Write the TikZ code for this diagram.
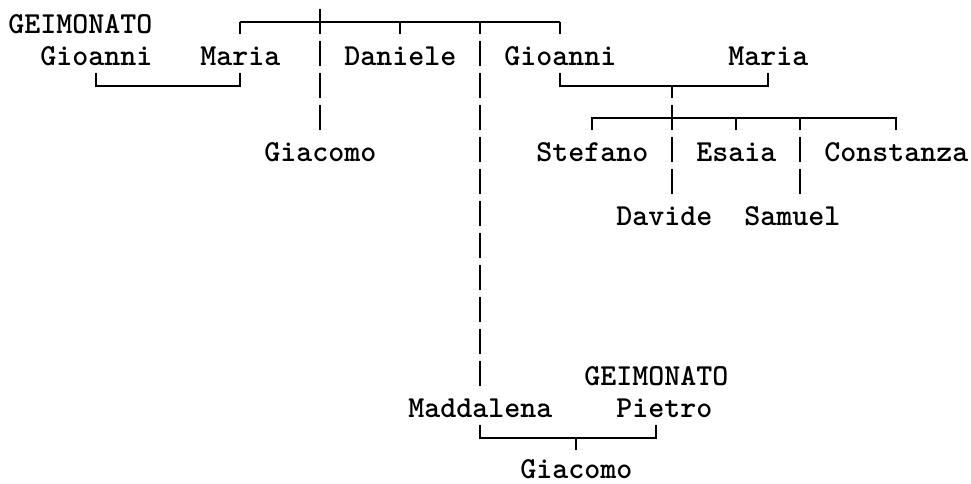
\documentclass[tikz,border=0pt]{standalone}
\usepackage{fontspec}
\usepackage{tikz}
\definecolor{TreeInk}{RGB}{0,0,0}
% grid of the tree: 16px columns, 32px rows
\newcommand\colx[1]{\the\numexpr16*#1+16\relax}
\newcommand\colw[1]{\the\numexpr16*#1+8\relax}
\newcommand\rowy[1]{\the\numexpr22+32*#1\relax}
\newcommand\rowb[1]{\the\numexpr33+32*#1\relax}

\begin{document}
\begin{tikzpicture}[x=0.75pt, y=-0.75pt,
    person/.style={font=\ttfamily\bfseries\fontsize{22.86pt}{26pt}\selectfont,
                   anchor=base west, inner sep=0pt, text=TreeInk},
    link/.style={line width=1pt, TreeInk},
    rule/.style={link, dash pattern=on 19.125pt off 4.875pt}
  ]
  \useasboundingbox (0,0) rectangle (971,483);

  % people
  \node[person] (gei1)      at (\colw{0},\rowb{0})  {GEIMONATO};
  \node[person] (gioanni1)  at (\colw{2},\rowb{1})  {Gioanni};
  \node[person] (maria1)    at (\colw{12},\rowb{1}) {Maria};
  \node[person] (daniele)   at (\colw{21},\rowb{1}) {Daniele};
  \node[person] (gioanni2)  at (\colw{31},\rowb{1}) {Gioanni};
  \node[person] (maria2)    at (\colw{45},\rowb{1}) {Maria};
  \node[person] (giacomo1)  at (\colw{16},\rowb{4}) {Giacomo};
  \node[person] (stefano)   at (\colw{33},\rowb{4}) {Stefano};
  \node[person] (esaia)     at (\colw{43},\rowb{4}) {Esaia};
  \node[person] (constanza) at (\colw{51},\rowb{4}) {Constanza};
  \node[person] (davide)    at (\colw{38},\rowb{6}) {Davide};
  \node[person] (samuel)    at (\colw{46},\rowb{6}) {Samuel};
  \node[person] (gei2)      at (\colw{36},\rowb{11}) {GEIMONATO};
  \node[person] (maddalena) at (\colw{25},\rowb{12}) {Maddalena};
  \node[person] (pietro)    at (\colw{38},\rowb{12}) {Pietro};
  \node[person] (giacomo2)  at (\colw{32},478)       {Giacomo};

  % siblings bar on top
  \coordinate (sibL) at (\colx{14},\rowy{0});
  \coordinate (sibR) at (\colx{34},\rowy{0});
  \draw[link] (sibL) -- (sibR);
  \foreach \c in {14,24,29,34}
    \draw[link] (\colx{\c},\rowy{0}) -- ++(0,12);

  % long drops
  \coordinate (giacTop) at (\colx{19},8.5);
  \coordinate (giacEnd) at (\colx{19},130);
  \draw[rule] (giacTop) -- (giacEnd);
  \coordinate (madTop) at (\colx{29},40.5);
  \coordinate (madEnd) at (\colx{29},386);
  \draw[rule] (madTop) -- (madEnd);

  % couples
  \coordinate (pairLa) at (\colx{5},72.5);
  \coordinate (pairLb) at (\colx{14},72.5);
  \draw[link] (pairLa) -- ++(0,13.5) -| (pairLb);
  \coordinate (pairRa) at (\colx{34},72.5);
  \coordinate (pairRb) at (\colx{47},72.5);
  \draw[link] (pairRa) -- ++(0,13.5) -| (pairRb);
  \coordinate (pairBa) at (\colx{29},424.5);
  \coordinate (pairBb) at (\colx{40},424.5);
  \draw[link] (pairBa) -- ++(0,13.5) -| (pairBb);

  % children of Gioanni and Maria
  \coordinate (kidsL) at (\colx{36},130);
  \coordinate (kidsR) at (\colx{55},130);
  \draw[link] (kidsL) -- ++(0,-12) -| (kidsR);
  \draw[link] (\colx{41},86) -- (\colx{41},98);
  \foreach \c in {45,49}
    \draw[link] (\colx{\c},118) -- ++(0,12);
  \coordinate (davTop) at (\colx{41},104.5);
  \coordinate (davEnd) at (\colx{41},194);
  \draw[rule] (davTop) -- (davEnd);
  \coordinate (samTop) at (\colx{49},136.5);
  \coordinate (samEnd) at (\colx{49},194);
  \draw[rule] (samTop) -- (samEnd);

  % child of Maddalena and Pietro
  \draw[link] (\colx{35},438) -- ++(0,12);
\end{tikzpicture}
\end{document}
